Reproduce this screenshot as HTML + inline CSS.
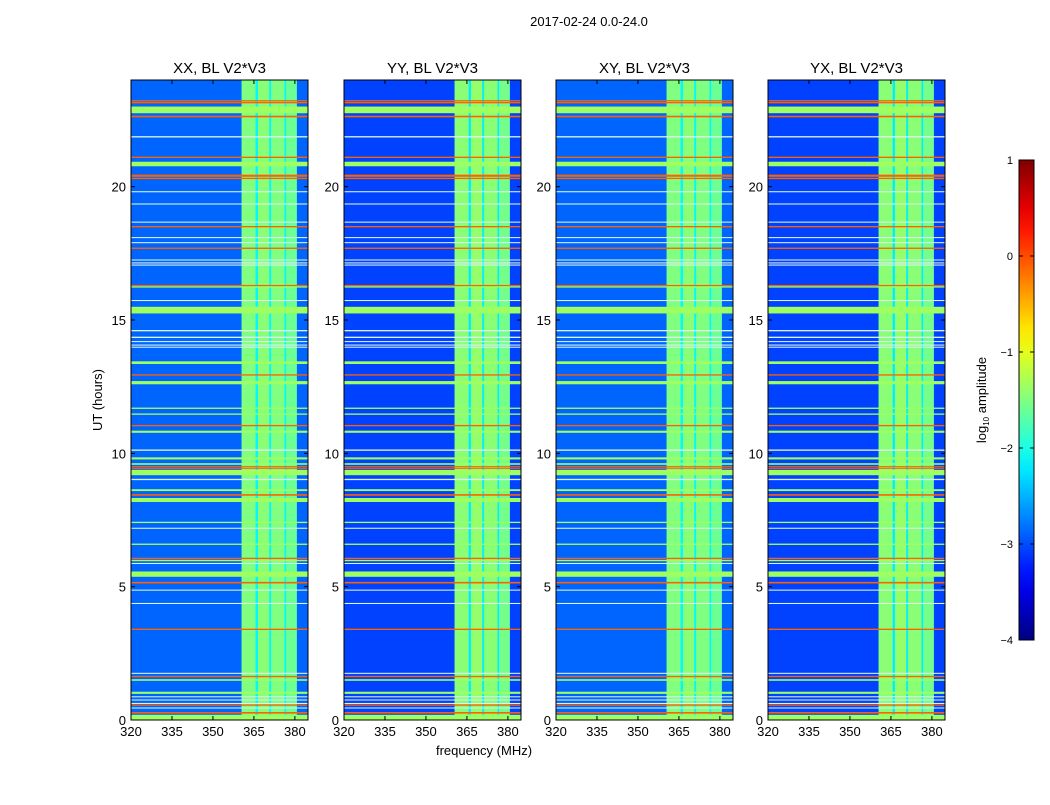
<!DOCTYPE html>
<html><head><meta charset="utf-8">
<style>
body{margin:0;background:#fff;}
svg text{font-family:"Liberation Sans",sans-serif;fill:#000;}
</style></head>
<body>
<svg id="fig" width="1050" height="800" xmlns="http://www.w3.org/2000/svg">
<text x="589" y="26" font-size="13" text-anchor="middle">2017-02-24 0.0-24.0</text>
<text x="484" y="755" font-size="13" text-anchor="middle">frequency (MHz)</text>
<text x="102" y="400" font-size="13" text-anchor="middle" transform="rotate(-90 102 400)">UT (hours)</text>
<g id="panels"></g>
<g id="cbar"></g>
</svg>
<script>
// ---- data ----
const panelTitles = ["XX, BL V2*V3","YY, BL V2*V3","XY, BL V2*V3","YX, BL V2*V3"];
const panelLeft = [131,344,556,768];
const bgLevel = [-2.88,-3.05,-2.88,-3.05];
const bandLevel = [-1.75,-1.8,-1.75,-1.8];
// frequency bands of RFI (MHz start, end, log10 amp)
const bandStart = [360.5,366.5,371.3,376.8];
const bandEnd   = [365.6,370.6,376.2,380.7];
const bandAmp   = [-1.5,-1.45,-1.5,-1.6];
// horizontal flagged/high rows: hour center, width (hours), type
const lineHours = [23.22,23.15,22.88,22.63,21.87,21.1,20.85,20.41,20.31,19.81,19.35,18.67,18.5,18.09,17.9,17.69,17.25,17.14,17.06,16.29,16.24,15.73,15.37,14.6,14.35,14.19,14.06,13.98,13.4,12.94,12.65,11.69,11.47,11.04,10.81,10.12,9.81,9.6,9.5,9.44,9.28,9.02,8.62,8.44,8.25,7.41,7.19,6.59,6.06,5.98,5.87,5.47,5.15,4.87,4.37,3.4,1.75,1.63,1.5,1.02,0.87,0.75,0.62,0.56,0.45,0.27,0.1];
const lineWidth = [0.05,0.05,0.25,0.06,0.05,0.05,0.17,0.08,0.05,0.04,0.04,0.04,0.05,0.04,0.04,0.05,0.04,0.04,0.04,0.05,0.05,0.04,0.25,0.05,0.05,0.04,0.04,0.04,0.1,0.05,0.12,0.05,0.05,0.05,0.08,0.05,0.08,0.06,0.04,0.04,0.2,0.05,0.07,0.06,0.15,0.05,0.04,0.05,0.05,0.05,0.04,0.2,0.06,0.04,0.04,0.05,0.04,0.05,0.06,0.08,0.04,0.04,0.04,0.05,0.04,0.06,0.19];
const lineType = ["r","r","g","r","w","r","g","r","r","w","w","w","r","w","w","r","w","w","w","r","g","w","g","w","w","w","w","w","g","r","g","g","g","r","g","w","g","g","r","r","g","w","g","r","g","g","w","g","r","g","w","g","r","w","w","r","w","r","g","g","w","w","w","r","w","r","g"];
const typeLevel = {g:-1.35, r:-0.1, w:-1.6};
const xTicks = [320,335,350,365,380];
const yTicks = [0,5,10,15,20];
const cbTicks = [1,0,-1,-2,-3,-4];

// ---- helpers ----
const NS="http://www.w3.org/2000/svg";
const W=177, TOP=80, BOT=720, FMIN=320, FMAX=384.8, TMAX=24;
function jet(v){const t=Math.max(0,Math.min(1,(v+4)/5));const c=x=>Math.round(255*Math.max(0,Math.min(1,1.5-Math.abs(4*t-x))));return `rgb(${c(3)},${c(2)},${c(1)})`;}
function mk(tag,attrs,parent){const e=document.createElementNS(NS,tag);for(const k in attrs)e.setAttribute(k,attrs[k]);parent.appendChild(e);return e;}
const yS=h=>BOT-(h/TMAX)*(BOT-TOP);

const root=document.getElementById('panels');
panelTitles.forEach((title,p)=>{
  const L=panelLeft[p];
  const xS=f=>L+(f-FMIN)/(FMAX-FMIN)*W;
  const g=mk('g',{},root);
  
  
  const bg=mk('rect',{x:L,y:TOP,width:W,height:BOT-TOP,fill:jet(bgLevel[p])},g);
  
  
  const band=mk('rect',{x:xS(bandStart[0]),y:TOP,width:xS(bandEnd[3])-xS(bandStart[0]),height:BOT-TOP,fill:jet(bandLevel[p]-0.4)},g);
  
  
  bandStart.forEach((f,i)=>{
    const r=mk('rect',{x:xS(f),y:TOP,width:xS(bandEnd[i])-xS(f),height:BOT-TOP,fill:jet(bandAmp[i]-(bandLevel[p]+1.75))},g);
    
    
  });
  lineHours.forEach((h,i)=>{
    const t=lineType[i];
    const hh=Math.max(1,(lineWidth[i]/TMAX)*(BOT-TOP));
    const col=t==='w'?'#d8f4f0':jet(typeLevel[t]);
    const r=mk('rect',{x:L,y:yS(h)-hh/2,width:W,height:hh,fill:col},g);
    
    
  });
  const fr=mk('rect',{x:L,y:TOP,width:W,height:BOT-TOP,fill:'none',stroke:'#000','stroke-width':1},g);
  
  
  const tt=mk('text',{x:L+W/2,y:73,'font-size':15,'text-anchor':'middle'},g);
  tt.textContent=title;
  
  
  xTicks.forEach(v=>{
    const x=xS(v);
    mk('line',{x1:x,x2:x,y1:BOT,y2:BOT-4,stroke:'#000'},g);
    mk('line',{x1:x,x2:x,y1:TOP,y2:TOP+4,stroke:'#000'},g);
    const t=mk('text',{x:x,y:BOT+16,'font-size':13,'text-anchor':'middle'},g);
    t.textContent=v;
    
    
  });
  yTicks.forEach(v=>{
    const y=yS(v);
    mk('line',{x1:L,x2:L+4,y1:y,y2:y,stroke:'#000'},g);
    mk('line',{x1:L+W,x2:L+W-4,y1:y,y2:y,stroke:'#000'},g);
    const t=mk('text',{x:L-5,y:y+5,'font-size':13,'text-anchor':'end'},g);
    t.textContent=v;
    
    
  });
});

// colorbar
const cb=document.getElementById('cbar');
const CX=1019,CW=15,CT=160,CB=640;
const defs=mk('defs',{},cb);
const grad=mk('linearGradient',{id:'jetg',x1:0,y1:1,x2:0,y2:0},defs);
for(let i=0;i<=20;i++){mk('stop',{offset:i/20,'stop-color':jet(-4+5*i/20)},grad);}
mk('rect',{x:CX,y:CT,width:CW,height:CB-CT,fill:'url(#jetg)',stroke:'#000'},cb);
cbTicks.forEach(v=>{
  const y=CB-(v+4)/5*(CB-CT);
  mk('line',{x1:CX,x2:CX+4,y1:y,y2:y,stroke:'#000'},cb);
  mk('line',{x1:CX+CW,x2:CX+CW-4,y1:y,y2:y,stroke:'#000'},cb);
  const t=mk('text',{x:CX-6,y:y+4,'font-size':11,'text-anchor':'end'},cb);
  t.textContent=v<0?'\u2212'+(-v):String(v);
  
  
});
const lab=mk('text',{x:986,y:400,'font-size':13,'text-anchor':'middle',transform:'rotate(-90 986 400)'},cb);
lab.innerHTML='log<tspan font-size="8" dy="3">10</tspan><tspan dy="-3"> amplitude</tspan>';


</script>
</body></html>
